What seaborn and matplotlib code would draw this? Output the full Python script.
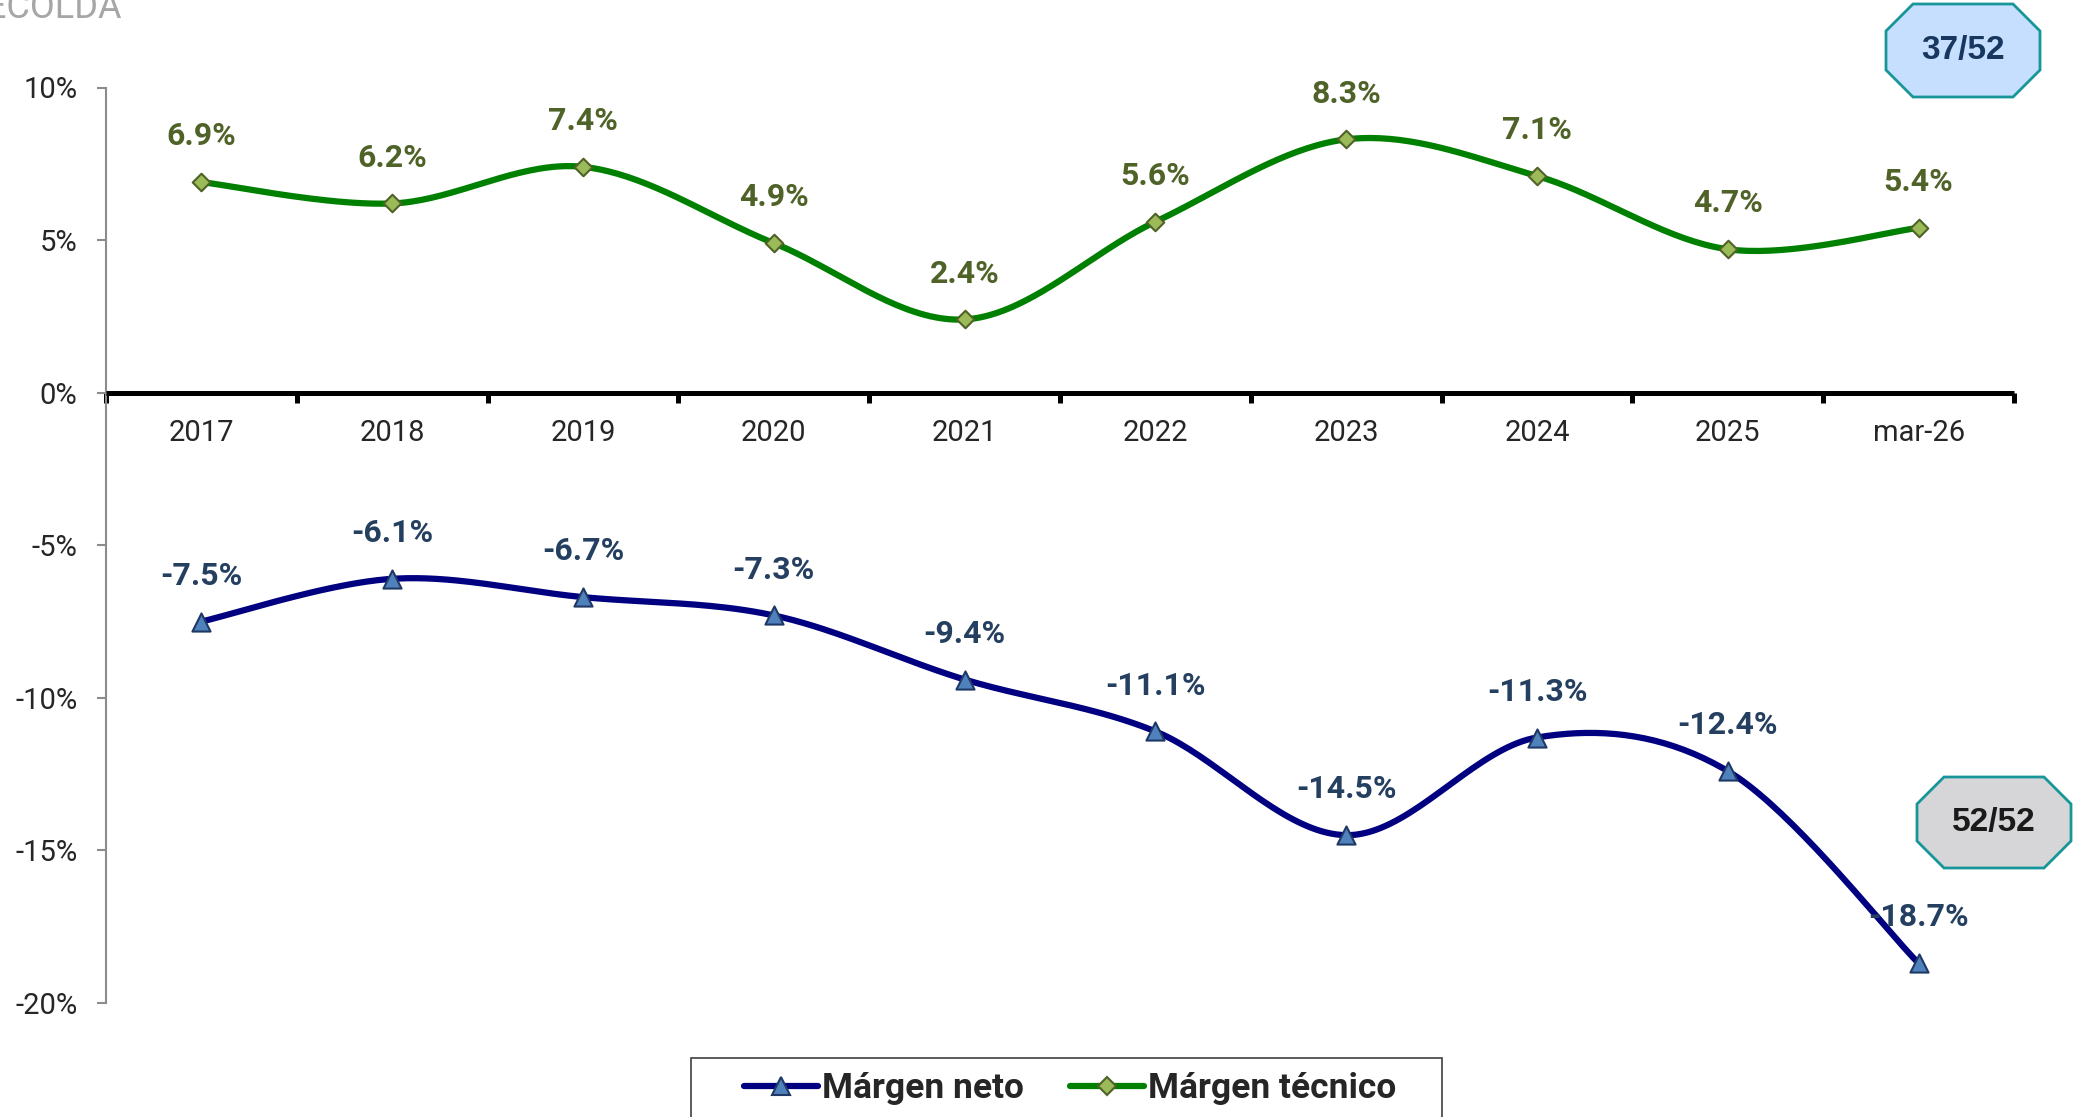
import numpy as np
import pandas as pd
import matplotlib
matplotlib.use('Agg')
import matplotlib.pyplot as plt
from matplotlib import font_manager
from matplotlib.patches import Polygon, Rectangle
from matplotlib.lines import Line2D
from matplotlib.ticker import FixedLocator, FuncFormatter
import seaborn as sns

### Margen tecnico / neto, 2017 - mar-26

periods = ['2017', '2018', '2019', '2020', '2021', '2022', '2023', '2024', '2025', 'mar-26']
margen_tecnico = [6.9, 6.2, 7.4, 4.9, 2.4, 5.6, 8.3, 7.1, 4.7, 5.4]
margen_neto = [-7.5, -6.1, -6.7, -7.3, -9.4, -11.1, -14.5, -11.3, -12.4, -18.7]
y_ticks = [10, 5, 0, -5, -10, -15, -20]
rank_tecnico = '37/52'
rank_neto = '52/52'

W, H = 2080, 1117

sns.set_theme(style='white')
plt.rcParams['font.family'] = ['Roboto', 'DejaVu Sans']

installed = {f.name for f in font_manager.fontManager.ttflist}
narrow = 'Liberation Sans Narrow' in installed
legend_family = ['Liberation Sans Narrow'] if narrow else ['Roboto']
legend_size = 27 if narrow else 25.5


def smooth(xs, ys, n=40):
    # Excel style smoothed line (Catmull-Rom bezier through the points)
    p = np.column_stack([xs, ys]).astype(float)
    p = np.vstack([p[0], p, p[-1]])
    out = []
    t = np.linspace(0, 1, n)[:, None]
    for i in range(1, len(p) - 2):
        p0, p1, p2, p3 = p[i - 1], p[i], p[i + 1], p[i + 2]
        c1 = p1 + (p2 - p0) / 6
        c2 = p2 - (p3 - p1) / 6
        seg = ((1 - t) ** 3) * p1 + 3 * ((1 - t) ** 2) * t * c1 + 3 * (1 - t) * t ** 2 * c2 + t ** 3 * p2
        out.append(seg if i == 1 else seg[1:])
    seg = np.vstack(out)
    return seg[:, 0], seg[:, 1]


def px(x, y):
    return x / W, 1 - y / H


def badge(fig, x0, y0, x1, y1, text, face, color, cut=27):
    pts = [(x0 + cut, y0), (x1 - cut, y0), (x1, y0 + cut), (x1, y1 - cut),
           (x1 - cut, y1), (x0 + cut, y1), (x0, y1 - cut), (x0, y0 + cut)]
    poly = Polygon([px(a, b) for a, b in pts], closed=True, transform=fig.transFigure,
                   facecolor=face, edgecolor='#17969A', linewidth=2)
    fig.patches.append(poly)
    cx, cy = px((x0 + x1) / 2, (y0 + y1) / 2)
    fig.text(cx, cy, text, ha='center', va='center', fontsize=24, fontweight='bold',
             color=color, family=['Liberation Sans', 'DejaVu Sans'])


pos = np.arange(len(periods))
df = pd.DataFrame({'pos': pos, 'tecnico': margen_tecnico, 'neto': margen_neto})

fig = plt.figure(figsize=(W / 100, H / 100), dpi=100)
ax = fig.add_axes([106 / W, 1 - 1003 / H, (2014 - 106) / W, (1003 - 87.5) / H])

green, green_fill, green_edge, green_text = '#008000', '#9BBB59', '#4F6228', '#4F6228'
navy, navy_fill, navy_edge, navy_text = '#000080', '#4F81BD', '#1F3864', '#243F60'

sx, sy = smooth(pos, margen_tecnico)
sns.lineplot(x=sx, y=sy, ax=ax, color=green, linewidth=4.5, sort=False, zorder=2)
sx, sy = smooth(pos, margen_neto)
sns.lineplot(x=sx, y=sy, ax=ax, color=navy, linewidth=4.5, sort=False, zorder=2)

sns.scatterplot(data=df, x='pos', y='tecnico', ax=ax, marker='D', s=80, color=green_fill,
                edgecolor=green_edge, linewidth=1.5, zorder=4)
sns.scatterplot(data=df, x='pos', y='neto', ax=ax, marker='^', s=170, color=navy_fill,
                edgecolor=navy_edge, linewidth=1.5, zorder=4)

for x, v in zip(pos, margen_tecnico):
    ax.annotate(f'{v:.1f}%', (x, v), xytext=(0, 33), textcoords='offset points',
                ha='center', va='center', fontsize=23, fontweight='bold', color=green_text, zorder=5)
for x, v in zip(pos, margen_neto):
    ax.annotate(f'{v:.1f}%', (x, v), xytext=(0, 33), textcoords='offset points',
                ha='center', va='center', fontsize=23, fontweight='bold', color=navy_text, zorder=5)

ax.set_xlim(-0.5, len(periods) - 0.5)
ax.set_ylim(-20, 10)
ax.set_xlabel('')
ax.set_ylabel('')

# x axis sits on the zero line, ticks between categories
ax.spines['bottom'].set_position(('data', 0))
ax.spines['bottom'].set_color('black')
ax.spines['bottom'].set_linewidth(3.6)
ax.spines['bottom'].set_capstyle('butt')
ax.spines['top'].set_visible(False)
ax.spines['right'].set_visible(False)
ax.spines['left'].set_color('#8C8C8C')
ax.spines['left'].set_linewidth(1.5)

ax.set_xticks(pos)
ax.set_xticklabels(periods)
ax.xaxis.set_minor_locator(FixedLocator(np.arange(-0.5, len(periods), 1.0)))
ax.tick_params(axis='x', which='major', length=0, pad=19, labelsize=21, labelcolor='#262626')
ax.tick_params(axis='x', which='minor', bottom=True, direction='out', length=7, width=3.6, color='black')

ax.set_yticks(y_ticks)
ax.yaxis.set_major_formatter(FuncFormatter(lambda v, p: f'{v:.0f}%'))
ax.tick_params(axis='y', left=True, direction='out', length=6.5, width=1.5, color='#8C8C8C',
               pad=14, labelsize=21, labelcolor='#262626')
ax.grid(False)

# legend (frame drawn separately, it runs off the bottom edge)
handles = [
    Line2D([0], [0], color=navy, lw=4.5, marker='^', markersize=13, markerfacecolor=navy_fill,
           markeredgecolor=navy_edge, markeredgewidth=1.5),
    Line2D([0], [0], color=green, lw=4.5, marker='D', markersize=9, markerfacecolor=green_fill,
           markeredgecolor=green_edge, markeredgewidth=1.5),
]
fig.legend(handles, ['Márgen neto', 'Márgen técnico'], loc='upper center',
           bbox_to_anchor=(1070 / W, 1 - 1058 / H), ncol=2, frameon=False,
           handlelength=2.1, handletextpad=0.1, columnspacing=1.3,
           borderpad=0.4, borderaxespad=0,
           prop={'family': legend_family, 'weight': 'bold', 'size': legend_size})
x0, y0 = px(691, 1135)
x1, y1 = px(1442, 1058)
fig.patches.append(Rectangle((x0, y0), x1 - x0, y1 - y0, transform=fig.transFigure,
                             facecolor='none', edgecolor='#404040', linewidth=1.2))

# badges
badge(fig, 1886, 4, 2040, 97, rank_tecnico, '#C6DFFF', '#17375E')
badge(fig, 1917, 777, 2071, 868, rank_neto, '#D6D5D7', '#1A1A1A')

# source text cut at the top left corner
fig.text(122 / W, 1 - 18 / H, 'FASECOLDA', ha='right', va='baseline', fontsize=26, color='#A6A6A6')

fig.savefig('out.png', dpi=100)
